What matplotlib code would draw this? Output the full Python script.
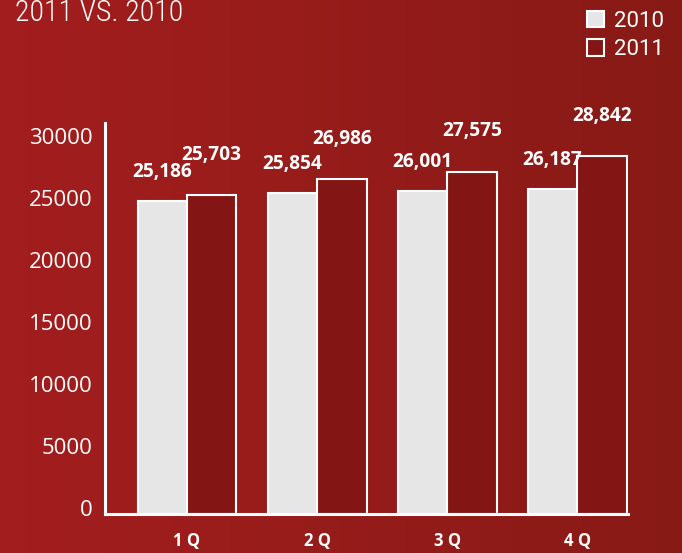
import numpy as np
import matplotlib.pyplot as plt
from matplotlib.colors import LinearSegmentedColormap
from matplotlib.transforms import ScaledTranslation

quarters = ["1 Q", "2 Q", "3 Q", "4 Q"]
sales_2010 = [25186, 25854, 26001, 26187]
sales_2011 = [25703, 26986, 27575, 28842]
y_ticks = [0, 5000, 10000, 15000, 20000, 25000, 30000]

BG_LEFT = "#a31e1e"
BG_RIGHT = "#881a16"
GREY = "#e6e6e6"
DARK_RED = "#831614"

fig = plt.figure(figsize=(6.82, 5.53), dpi=100)

# gradient background across the whole figure
bg = fig.add_axes([0, 0, 1, 1], zorder=-10)
cmap = LinearSegmentedColormap.from_list("bg", [BG_LEFT, BG_RIGHT])
bg.imshow(np.linspace(0, 1, 256).reshape(1, -1), aspect="auto", cmap=cmap,
          extent=[0, 1, 0, 1])
bg.axis("off")

ax = fig.add_axes([0.154, 0.0705, 0.767, 0.707])
ax.patch.set_alpha(0)

x = np.arange(len(quarters))
width = 0.38

bars_2010 = ax.bar(x - width / 2, sales_2010, width, color=GREY,
                   edgecolor="white", linewidth=1.5, label="2010")
bars_2011 = ax.bar(x + width / 2, sales_2011, width, color=DARK_RED,
                   edgecolor="white", linewidth=1.5, label="2011")

# value labels above the bars, 2011 ones sit a bit higher
value_font = dict(color="white", fontsize=13.8, fontweight="bold",
                  family="Open Sans", ha="center", va="center")
for bar, val in zip(bars_2010, sales_2010):
    ax.annotate(f"{val:,}", (bar.get_x() + bar.get_width() / 2, val),
                xytext=(0, 21), textcoords="offset points", **value_font)
for bar, val in zip(bars_2011, sales_2011):
    ax.annotate(f"{val:,}", (bar.get_x() + bar.get_width() / 2, val),
                xytext=(0, 29), textcoords="offset points", **value_font)

ax.set_xlim(-0.63, 3.39)
ax.set_ylim(0, 31500)
ax.set_yticks(y_ticks)
ax.set_xticks(x)
ax.set_xticklabels(quarters, fontsize=12, fontweight="bold", color="white",
                   family="Open Sans")
ax.tick_params(axis="x", length=0, pad=13)
ax.tick_params(axis="y", length=0, pad=9, labelsize=16, labelcolor="white")
for label in ax.get_yticklabels():
    label.set_family("Open Sans")
    label.set_transform(label.get_transform()
                        + ScaledTranslation(0, 4 / 72, fig.dpi_scale_trans))

for side in ["top", "right"]:
    ax.spines[side].set_visible(False)
for side in ["left", "bottom"]:
    ax.spines[side].set_color("white")
    ax.spines[side].set_linewidth(2.2)

fig.text(0.022, 0.962, "2011 VS. 2010", color="white", fontsize=21.5,
         family="Roboto Condensed", fontweight="light", va="baseline")

fig.legend(handles=[bars_2010, bars_2011], labels=["2010", "2011"],
           loc="upper left", bbox_to_anchor=(0.861, 0.981), frameon=False,
           borderpad=0, borderaxespad=0, handlelength=0.77, handleheight=0.77,
           handletextpad=0.45, labelspacing=0.35,
           prop={"family": "Roboto", "weight": "normal", "size": 16},
           labelcolor="white")

fig.savefig("out.png", dpi=100)
